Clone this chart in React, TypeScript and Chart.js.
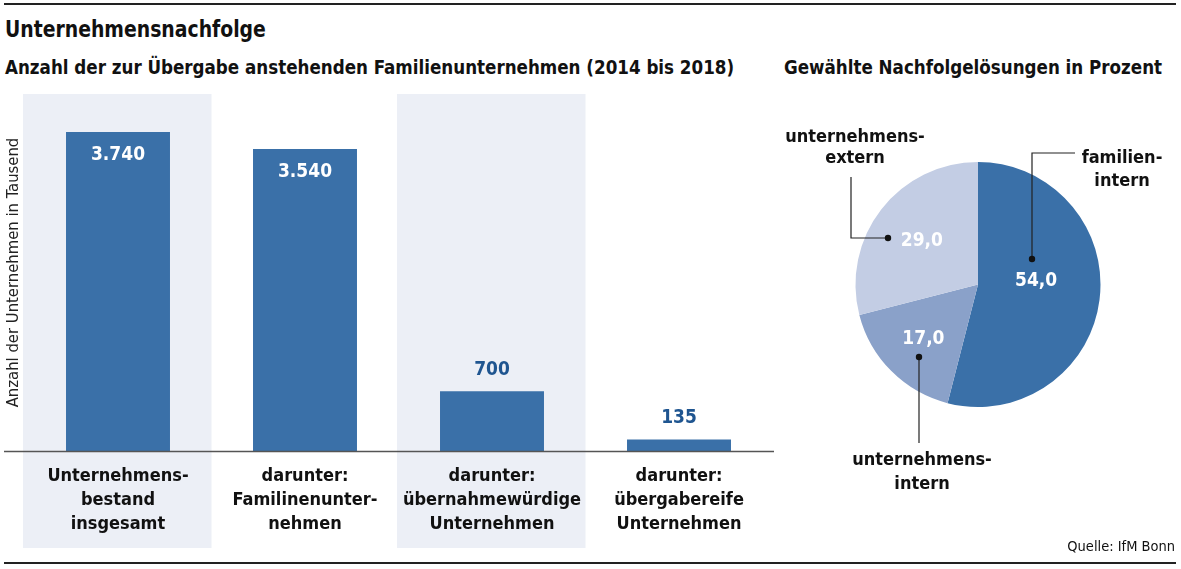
import React, { useEffect, useRef } from "react";
import { Chart, registerables } from "chart.js";

Chart.register(...registerables);

// ---------- data ----------
const categories: string[][] = [
  ["Unternehmens-", "bestand", "insgesamt"],
  ["darunter:", "Familinenunter-", "nehmen"],
  ["darunter:", "übernahmewürdige", "Unternehmen"],
  ["darunter:", "übergabereife", "Unternehmen"],
];
const barValues: number[] = [3740, 3540, 700, 135];
const yAxisTitle = "Anzahl der Unternehmen in Tausend";
const yAxisMax = 4185;

const pieLabels: string[] = ["familien-intern", "unternehmens-intern", "unternehmens-extern"];
const pieValues: number[] = [54.0, 17.0, 29.0];

const mainTitle = "Unternehmensnachfolge";
const barTitle = "Anzahl der zur Übergabe anstehenden Familienunternehmen (2014 bis 2018)";
const pieTitle = "Gewählte Nachfolgelösungen in Prozent";
const sourceText = "Quelle: IfM Bonn";

// ---------- styles ----------
const FONT = "'Liberation Sans Narrow', 'DejaVu Sans Condensed', 'Liberation Sans', sans-serif";
const BAR_COLOR = "#3a70a8";
const BAND_COLOR = "#eceff6";
const PIE_COLORS = ["#3a70a8", "#8aa1c9", "#c3cde4"];
const DARK_BLUE = "#1f5590";
const TEXT = "#111111";

// label placement for values inside pie slices: [radius fraction, angle shift in degrees]
const pieLabelPlacement: number[][] = [
  [0.475, -10.6],
  [0.63, 0],
  [0.58, 0],
];

// callouts (relative to pie centre): dot, path, text lines
const callouts = [
  {
    path: [[54, -25.5], [54, -131.5], [97, -131.5]],
    text: [["familien-", 144, -126.5], ["intern", 144, -103.5]],
  },
  {
    path: [[-59, 72.5], [-59, 158.5]],
    text: [["unternehmens-", -56, 175.5], ["intern", -56, 199.5]],
  },
  {
    path: [[-90, -46.5], [-127, -46.5], [-127, -107.5]],
    text: [["unternehmens-", -123, -147.5], ["extern", -123, -126.5]],
  },
];

function fmtThousands(v: number): string {
  const s = Math.round(v).toString();
  return s.replace(/\B(?=(\d{3})+(?!\d))/g, ".");
}

function BarChart() {
  const ref = useRef<HTMLCanvasElement | null>(null);
  useEffect(() => {
    if (!ref.current) return;
    const bandPlugin = {
      id: "bands",
      beforeDraw(chart: any) {
        const { ctx, chartArea } = chart;
        const xs = chart.scales.x;
        const w = (chartArea.right - chartArea.left) / categories.length;
        ctx.save();
        ctx.fillStyle = BAND_COLOR;
        [0, 2].forEach((i) => {
          const cx = xs.getPixelForValue(i);
          ctx.fillRect(cx - w / 2 - 1.5, chartArea.top, w + 1.5, 463 - chartArea.top);
        });
        ctx.restore();
      },
    };
    const labelPlugin = {
      id: "valueLabels",
      afterDatasetsDraw(chart: any) {
        const { ctx, chartArea } = chart;
        ctx.save();
        ctx.strokeStyle = "#555";
        ctx.lineWidth = 1.3;
        ctx.beginPath();
        ctx.moveTo(4, chartArea.bottom + 0.5);
        ctx.lineTo(774, chartArea.bottom + 0.5);
        ctx.stroke();
        const meta = chart.getDatasetMeta(0);
        ctx.font = `bold 19px ${FONT}`;
        ctx.textAlign = "center";
        ctx.textBaseline = "middle";
        meta.data.forEach((el: any, i: number) => {
          const v = barValues[i];
          const inside = v / yAxisMax > 0.5;
          ctx.fillStyle = inside ? "#ffffff" : DARK_BLUE;
          ctx.fillText(fmtThousands(v), el.x, inside ? el.y + 23 : el.y - 21);
        });
        ctx.restore();
      },
    };
    const chart = new Chart(ref.current, {
      type: "bar",
      data: {
        labels: categories as any,
        datasets: [
          {
            data: barValues,
            backgroundColor: BAR_COLOR,
            borderWidth: 0,
            barPercentage: 0.556,
            categoryPercentage: 1,
          },
        ],
      },
      options: {
        responsive: false,
        maintainAspectRatio: false,
        animation: false,
        layout: { padding: { left: 0, right: 7.5, top: 9, bottom: 0 } },
        plugins: { legend: { display: false }, tooltip: { enabled: false } },
        scales: {
          x: {
            grid: { display: false, drawTicks: false },
            border: { display: false },
            ticks: {
              color: TEXT,
              font: { family: FONT, size: 18, weight: "bold", lineHeight: 24 / 18 },
              padding: 13,
              maxRotation: 0,
              autoSkip: false,
            },
            afterFit: (s: any) => {
              s.height = 104;
            },
          },
          y: {
            min: 0,
            max: yAxisMax,
            grid: { display: false, drawTicks: false },
            border: { display: false },
            ticks: { display: false },
            title: {
              display: true,
              text: yAxisTitle,
              color: "#222",
              font: { family: FONT, size: 16.5 },
              padding: { top: 4, bottom: 0 },
            },
            afterFit: (s: any) => {
              s.width = 24.5;
            },
          },
        },
      } as any,
      plugins: [bandPlugin, labelPlugin],
    });
    return () => chart.destroy();
  }, []);
  return (
    <canvas
      ref={ref}
      width={780}
      height={470}
      style={{ position: "absolute", left: 0, top: 85, width: 780, height: 470 }}
    />
  );
}

function PieChart() {
  const ref = useRef<HTMLCanvasElement | null>(null);
  useEffect(() => {
    if (!ref.current) return;
    const piePlugin = {
      id: "pieLabels",
      afterDraw(chart: any) {
        const { ctx } = chart;
        const meta = chart.getDatasetMeta(0);
        ctx.save();
        ctx.textAlign = "center";
        ctx.textBaseline = "middle";
        ctx.font = `bold 19px ${FONT}`;
        let cx = 0, cy = 0;
        meta.data.forEach((arc: any, i: number) => {
          const p = arc.getProps(["x", "y", "startAngle", "endAngle", "outerRadius"], true);
          cx = p.x;
          cy = p.y;
          const [frac, shift] = pieLabelPlacement[i];
          const mid = (p.startAngle + p.endAngle) / 2 + (shift * Math.PI) / 180;
          const r = p.outerRadius * frac;
          ctx.fillStyle = "#ffffff";
          ctx.fillText(pieValues[i].toFixed(1).replace(".", ","), p.x + Math.cos(mid) * r, p.y + Math.sin(mid) * r);
        });
        ctx.font = `bold 18px ${FONT}`;
        callouts.forEach((c) => {
          ctx.strokeStyle = "#222";
          ctx.lineWidth = 1.2;
          ctx.beginPath();
          c.path.forEach((pt, j) => {
            if (j === 0) ctx.moveTo(cx + pt[0], cy + pt[1]);
            else ctx.lineTo(cx + pt[0], cy + pt[1]);
          });
          ctx.stroke();
          ctx.fillStyle = "#111";
          ctx.beginPath();
          ctx.arc(cx + c.path[0][0], cy + c.path[0][1], 3.2, 0, Math.PI * 2);
          ctx.fill();
          ctx.fillStyle = TEXT;
          c.text.forEach((t: any) => {
            ctx.fillText(t[0], cx + t[1], cy + t[2]);
          });
        });
        ctx.restore();
      },
    };
    const chart = new Chart(ref.current, {
      type: "pie",
      data: {
        labels: pieLabels,
        datasets: [
          {
            data: pieValues,
            backgroundColor: PIE_COLORS,
            borderWidth: 0,
          },
        ],
      },
      options: {
        responsive: false,
        maintainAspectRatio: false,
        animation: false,
        layout: { padding: { left: 75.5, right: 80.5, top: 77, bottom: 148 } },
        plugins: { legend: { display: false }, tooltip: { enabled: false } },
      } as any,
      plugins: [piePlugin],
    });
    return () => chart.destroy();
  }, []);
  return (
    <canvas
      ref={ref}
      width={401}
      height={470}
      style={{ position: "absolute", left: 780, top: 85, width: 401, height: 470 }}
    />
  );
}

export default function App() {
  const textBase: React.CSSProperties = {
    position: "absolute",
    fontFamily: FONT,
    color: TEXT,
    whiteSpace: "nowrap",
    lineHeight: 1,
  };
  return (
    <div
      style={{
        position: "absolute",
        left: 0,
        top: 0,
        width: 1181,
        height: 569,
        background: "#ffffff",
        overflow: "hidden",
      }}
    >
      <div style={{ position: "absolute", left: 4, top: 3, width: 1172, height: 2, background: "#222" }} />
      <div
        style={{
          ...textBase,
          left: 5,
          top: 18,
          fontSize: 23,
          fontWeight: "bold",
          transform: "scaleX(0.91)",
          transformOrigin: "left center",
        }}
      >
        {mainTitle}
      </div>
      <div style={{ ...textBase, left: 5, top: 59, fontSize: 18.6, fontWeight: "bold" }}>{barTitle}</div>
      <div style={{ ...textBase, left: 784, top: 59, fontSize: 18.6, fontWeight: "bold" }}>{pieTitle}</div>
      <BarChart />
      <PieChart />
      <div style={{ ...textBase, right: 6, top: 539, fontSize: 14.5 }}>{sourceText}</div>
      <div style={{ position: "absolute", left: 4, top: 562, width: 1172, height: 1.5, background: "#222" }} />
    </div>
  );
}
